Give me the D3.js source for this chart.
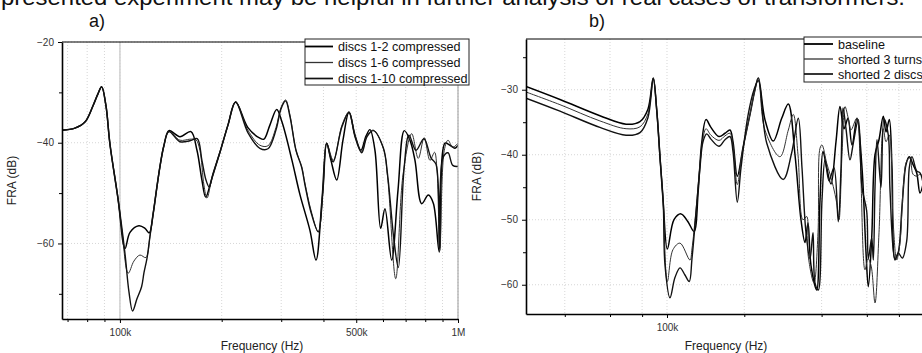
<!DOCTYPE html>
<html>
<head>
<meta charset="utf-8">
<script src="https://cdn.jsdelivr.net/npm/d3@7"></script>
<style>
  body { margin: 0; background: #fff; }
  svg { display: block; font-family: Arial, "Liberation Sans", sans-serif; }
</style>
</head>
<body>
<svg width="922" height="353"></svg>
<script>
// ---- data (frequency in kHz, FRA in dB) ----
const legendA = ["discs 1-2 compressed", "discs 1-6 compressed", "discs 1-10 compressed"];
const legendB = ["baseline", "shorted 3 turns", "shorted 2 discs"];

const discs12 = [[67.4,-37.5],[73.6,-37.1],[78.8,-35.9],[83.2,-32.7],[86.1,-30.3],[88.3,-28.9],[90.9,-32.6],[93.4,-40.2],[98.7,-51.1],[103.5,-61.0],[107.1,-57.8],[113.8,-56.5],[118.6,-57.0],[122.1,-57.9],[125.4,-54.1],[128.2,-49.5],[131.3,-44.8],[134.9,-40.6],[139.6,-37.6],[150.5,-38.8],[162.2,-37.8],[169.0,-41.5],[174.8,-47.4],[179.3,-50.8],[187.2,-47.0],[197.6,-41.9],[208.7,-36.5],[219.9,-31.9],[239.1,-37.0],[259.4,-39.1],[266.7,-39.3],[277.7,-36.5],[290.9,-33.4],[301.6,-35.9],[322.8,-43.5],[340.8,-50.3],[364.8,-57.4],[380.2,-63.3],[395.9,-51.4],[408.8,-40.1],[421,-43.5],[437.7,-47.4],[456.8,-39.5],[476,-33.9],[495.8,-38.5],[516.4,-41.5],[534.4,-38.7],[549,-37.4],[568,-41.5],[590.6,-57.0],[608.1,-53.1],[636.5,-63.3],[664.6,-49.4],[693.6,-37.6],[721,-39.5],[746,-43.5],[780.8,-52.1],[816.9,-50.4],[845.2,-52.0],[880.4,-61.7],[915.2,-40.1],[946.9,-40.5],[979.6,-41.1],[1000,-40.5]];
const discs16 = [[67.4,-37.5],[73.6,-37.1],[78.8,-35.9],[83.2,-32.7],[86.1,-30.3],[88.3,-28.9],[90.9,-32.6],[93.4,-40.2],[98.7,-51.1],[101.4,-57.5],[105.8,-65.9],[110,-63.5],[114.6,-62.3],[119.4,-62.8],[122.7,-58.6],[125.4,-54.1],[128.2,-49.5],[131.3,-44.8],[134.9,-40.6],[139.6,-37.8],[150.5,-39.5],[161.1,-39.3],[167.8,-39.4],[172.4,-41.5],[177.2,-48.4],[180.9,-51.0],[187.2,-47.0],[197.6,-41.9],[208.7,-36.5],[219.9,-31.9],[239.1,-37.5],[259.4,-40.5],[274.1,-40.6],[289.4,-37.0],[299.5,-33.0],[309,-31.5],[318.4,-34.5],[331.7,-41.5],[344.8,-44.7],[352.5,-48],[367.4,-53.4],[386.1,-57.7],[398.7,-49.4],[408.8,-40.1],[427.7,-43.5],[453.8,-36.5],[476,-33.9],[495.8,-38.5],[518.9,-41.8],[538.1,-38.6],[561.6,-37.5],[601.2,-41.1],[619.4,-47.0],[654.3,-67.0],[687.5,-46.4],[729.5,-38.2],[762.9,-43.1],[794.5,-39.0],[826.2,-43.5],[852.2,-41.9],[866.8,-45.4],[883.5,-61.4],[910.9,-41.5],[934.2,-39.5],[965,-40.9],[1000,-40.1]];
const discs110 = [[67.4,-37.5],[73.6,-37.1],[78.8,-35.9],[83.2,-32.7],[86.1,-30.3],[88.3,-28.9],[90.9,-32.6],[93.4,-40.2],[98.7,-51.1],[103.5,-62],[106.3,-69.5],[109,-73.4],[112.3,-71.0],[115.9,-68.6],[117.8,-65.8],[120.2,-63.0],[122.7,-58.6],[125.4,-54.1],[128.2,-49.5],[131.3,-44.8],[134.9,-40.6],[139.6,-37.8],[150.5,-39.8],[161.1,-39.6],[169.3,-39.2],[174.8,-43.5],[179.7,-47.4],[183.7,-48.8],[188.4,-46.2],[197.6,-41.9],[208.7,-36.5],[219.9,-31.9],[239.1,-38.0],[259.4,-41.1],[274.1,-41.2],[289.4,-37.5],[299.5,-33.3],[309,-31.7],[318.4,-34.8],[331.7,-41.5],[344.8,-44.9],[352.5,-48.3],[367.4,-53.8],[386.1,-57.7],[398.7,-49.4],[408.8,-40.1],[421,-43.1],[427.7,-43.8],[453.8,-36.8],[476,-34.0],[495.8,-38.8],[518.9,-42.0],[538.1,-38.8],[561.6,-37.6],[601.2,-41.0],[619.4,-46.5],[646.7,-59.4],[666,-64.8],[692.1,-45.4],[716.1,-38.5],[751.1,-41.5],[793,-39.2],[832.1,-43.0],[861,-44.3],[881.5,-61.0],[902.8,-43.0],[934.2,-42.0],[965,-44.5],[1000,-44.7]];

const baseline = [[28.25,-29.5],[38.3,-31.5],[54.8,-34.0],[69.3,-35.3],[78.5,-34.9],[84.3,-33.0],[88.4,-28.2],[91.2,-33.1],[93.9,-40.3],[96.7,-47.4],[100.3,-54.5],[106.5,-50.0],[113.4,-49.1],[120.7,-50.3],[127.4,-51.8],[132.4,-45.4],[136.5,-38.2],[141.9,-34.6],[148.3,-35.8],[159.4,-37.2],[168.2,-36.7],[175.9,-36.2],[180.7,-38.0],[187.8,-43.3],[198.2,-38.7],[210.5,-33.8],[220.1,-30.0],[226.8,-28.2],[240.7,-34.6],[259.4,-37.9],[279.7,-34.4],[296.8,-32.2],[315.1,-40],[332.5,-50],[344.6,-53.5],[354,-50.5],[363.6,-57],[382.7,-60.8],[394.3,-47],[405,-39.5],[418.7,-42],[435.2,-44.5],[455.1,-38],[471.8,-32.6],[489,-36],[506.8,-34.4],[525.3,-38.5],[549.5,-34.4],[574.6,-42],[595.5,-55],[608,-60.3],[626.8,-52.8],[645.7,-40],[669.2,-37.7],[695.5,-34.1],[712.5,-36.5],[733.9,-34.6],[751.9,-42],[772.5,-56],[795.6,-55],[822.7,-48],[852.3,-41.5],[878,-40.3],[907.7,-41.5],[938.4,-42.8],[966.5,-45.9],[1000,-44]];
const shorted3 = [[28.25,-30.35],[38.3,-32.3],[54.8,-34.8],[69.3,-36.0],[78.5,-35.7],[84.3,-33.7],[88.4,-28.2],[91.2,-33.1],[93.9,-40.3],[96.7,-47.4],[100.3,-59.5],[105.5,-54.6],[112.4,-53.6],[122.9,-56.2],[125.1,-54.5],[129.7,-48.5],[134.4,-41.5],[138.1,-37.5],[141.9,-36.0],[148.3,-37],[159.4,-37.8],[168.2,-37.1],[175.9,-36.7],[180.7,-38.5],[187.8,-44.6],[196,-39.8],[210.5,-33.8],[220.1,-30.0],[226.8,-28.2],[240.7,-36.2],[275.4,-40.3],[296.8,-36.2],[310.3,-33.8],[323.7,-40],[338.5,-50],[349.9,-49.5],[354.9,-55.6],[373.5,-59.7],[387.3,-52],[394.3,-39.0],[401.4,-38.5],[418.7,-41.3],[431.3,-43],[444.2,-44.9],[457.9,-47.4],[467.6,-50.0],[480.3,-40],[493.4,-32.6],[508.1,-34.4],[520.6,-36.2],[548,-34.4],[564.5,-40],[590.2,-57.7],[606.3,-56],[622.9,-57],[645.7,-62.8],[669.2,-52],[695.5,-36],[712.5,-38],[733.9,-37],[758.7,-50],[784.3,-56.2],[807.7,-53.5],[832,-45],[857.7,-41],[883.7,-40.5],[907.7,-43],[940.8,-43.3],[966.5,-43],[1000,-43.5]];
const shorted2 = [[28.25,-31.3],[38.3,-33.3],[54.8,-35.8],[69.3,-37.0],[78.5,-36.6],[84.3,-34.3],[88.4,-28.3],[91.2,-33.1],[93.9,-40.3],[96.7,-47.4],[98.2,-56.9],[102.7,-62.0],[107.4,-58.9],[112.4,-57.4],[117.5,-58.5],[122.1,-59.5],[125.1,-56],[129.7,-49],[134.4,-42.0],[138.1,-38.0],[142.8,-36.8],[148.3,-37.6],[159.4,-38.7],[168.2,-37.7],[175.9,-37.2],[180.7,-39.5],[187.8,-47.3],[194.2,-42],[206.7,-34],[218.2,-30],[226.8,-28.6],[244.5,-38.2],[283.7,-43.8],[305.9,-39.7],[324.6,-34.4],[335.5,-42],[347.7,-52],[360.5,-56],[370.3,-52],[377,-59.7],[388.4,-60.8],[401.4,-47],[412.4,-40.8],[427.4,-44],[447,-42],[464.6,-50.3],[476,-42],[484.7,-32.8],[497.8,-36],[515.9,-40.8],[531.6,-38.2],[555.9,-34.6],[574.6,-45],[599.3,-48.7],[608,-56],[626.8,-52.8],[636,-56.2],[645.7,-45],[657.4,-37.7],[681.3,-45],[699.8,-34.5],[727.4,-37],[738.5,-45.4],[772.5,-56.2],[795.6,-55.1],[824.9,-55.9],[857.7,-53.3],[878,-42],[899.5,-40.3],[938.4,-42.5],[966.5,-42.8],[1000,-45]];

// ticks (kHz / dB)
const xMajorA = [100, 500, 1000], xLabelA = ["100k", "500k", "1M"];
const xMinorA = [70, 80, 90, 200, 300, 400, 600, 700, 800, 900];
const yMajorA = [-20, -40, -60], yMinorA = [-30, -50, -70];
const xMajorB = [100], xLabelB = ["100k"];
const xMinorB = [40, 60, 80, 200, 400, 600, 800];
const yMajorB = [-30, -40, -50, -60], yMinorB = [-25, -35, -45, -55];

const svg = d3.select("svg");
const lineStyles = [
  { stroke: "#000", width: 1.5 },
  { stroke: "#333", width: 1.0 },
  { stroke: "#111", width: 1.4 }
];

// cut-off caption line above the figure
svg.append("text")
  .attr("x", 1).attr("y", 5)
  .attr("font-size", 22)
  .attr("textLength", 904)
  .attr("lengthAdjust", "spacingAndGlyphs")
  .attr("fill", "#111")
  .text("presented experiment may be helpful in further analysis of real cases of transformers.");

function panel(cfg) {
  const x = d3.scaleLog().domain(cfg.xDomain).range([cfg.left, cfg.right]);
  const y = d3.scaleLinear().domain(cfg.yDomain).range([cfg.bottom, cfg.top]);
  const g = svg.append("g");
  const plotRight = Math.min(cfg.right, 922);

  // panel letter
  svg.append("text").attr("x", cfg.letterX).attr("y", 27)
    .attr("text-anchor", "middle").attr("font-size", 18).attr("fill", "#111")
    .text(cfg.letter);

  // grid
  g.selectAll(".vg").data(cfg.xMajor.concat(cfg.xMinor)).join("line")
    .attr("x1", d => x(d)).attr("x2", d => x(d))
    .attr("y1", cfg.top).attr("y2", cfg.bottom)
    .attr("stroke", "#ccc").attr("stroke-width", 0.8)
    .attr("stroke-dasharray", "1,2");
  g.selectAll(".hg").data(cfg.yMajor).join("line")
    .attr("x1", cfg.left).attr("x2", plotRight)
    .attr("y1", d => y(d)).attr("y2", d => y(d))
    .attr("stroke", "#ccc").attr("stroke-width", 0.8)
    .attr("stroke-dasharray", "1,2");
  if (cfg.solid100) {
    g.append("line")
      .attr("x1", x(100)).attr("x2", x(100))
      .attr("y1", cfg.top).attr("y2", cfg.bottom)
      .attr("stroke", "#d0d0d0").attr("stroke-width", 1.5);
  }

  // curves
  const clipId = "clip" + cfg.letter[0];
  svg.append("clipPath").attr("id", clipId).append("rect")
    .attr("x", cfg.left).attr("y", cfg.top)
    .attr("width", cfg.right - cfg.left).attr("height", cfg.bottom - cfg.top);
  const line = d3.line()
    .x(d => x(d[0])).y(d => y(d[1]))
    .curve(d3.curveCatmullRom.alpha(0.5));
  g.append("g").attr("clip-path", `url(#${clipId})`)
    .selectAll("path").data(cfg.series).join("path")
    .attr("d", d => line(d))
    .attr("fill", "none")
    .attr("stroke", (d, i) => lineStyles[i].stroke)
    .attr("stroke-width", (d, i) => lineStyles[i].width)
    .attr("stroke-linejoin", "round");

  // frame: top black, right gray
  g.append("line").attr("x1", cfg.left).attr("x2", plotRight)
    .attr("y1", cfg.top).attr("y2", cfg.top)
    .attr("stroke", "#000").attr("stroke-width", 1);
  if (cfg.right <= 922) {
    g.append("line").attr("x1", cfg.right).attr("x2", cfg.right)
      .attr("y1", cfg.top).attr("y2", cfg.bottom)
      .attr("stroke", "#999").attr("stroke-width", 1);
  }

  // axes
  const xAxis = d3.axisBottom(x).tickValues(cfg.xMajor)
    .tickFormat((d, i) => cfg.xLabels[i]).tickSize(4).tickSizeOuter(0).tickPadding(6);
  const xAxisMinor = d3.axisBottom(x).tickValues(cfg.xMinor)
    .tickFormat("").tickSize(3).tickSizeOuter(0);
  const yAxis = d3.axisLeft(y).tickValues(cfg.yMajor)
    .tickFormat(d3.format("d")).tickSize(4).tickSizeOuter(0).tickPadding(4);
  const yAxisMinor = d3.axisLeft(y).tickValues(cfg.yMinor)
    .tickFormat("").tickSize(3).tickSizeOuter(0);

  const ax = g.append("g").attr("transform", `translate(0,${cfg.bottom})`).call(xAxis);
  g.append("g").attr("transform", `translate(0,${cfg.bottom})`).call(xAxisMinor)
    .select(".domain").remove();
  const ay = g.append("g").attr("transform", `translate(${cfg.left},0)`).call(yAxis);
  g.append("g").attr("transform", `translate(${cfg.left},0)`).call(yAxisMinor)
    .select(".domain").remove();
  [ax, ay].forEach(a => {
    a.select(".domain").attr("stroke", "#000").attr("stroke-width", 1.6);
    a.selectAll("text").attr("font-size", 10).attr("fill", "#333")
      .attr("font-family", "Arial, 'Liberation Sans', sans-serif");
  });
  g.selectAll(".tick line").attr("stroke", "#000");

  // axis titles
  svg.append("text")
    .attr("x", (cfg.left + plotRight) / 2 + 2).attr("y", 350)
    .attr("text-anchor", "middle").attr("font-size", 12).attr("fill", "#222")
    .text("Frequency (Hz)");
  svg.append("text")
    .attr("transform", `translate(${cfg.yTitleX},${(cfg.top + cfg.bottom) / 2}) rotate(-90)`)
    .attr("text-anchor", "middle").attr("font-size", 12).attr("fill", "#222")
    .text("FRA (dB)");

  // legend
  const L = cfg.legend;
  const lg = svg.append("g");
  lg.append("rect")
    .attr("x", L.x).attr("y", L.y).attr("width", L.w).attr("height", L.h)
    .attr("fill", "#fff").attr("stroke", "#222").attr("stroke-width", 1);
  cfg.names.forEach((name, i) => {
    const yy = L.y + L.first + i * L.step;
    lg.append("line")
      .attr("x1", L.x).attr("x2", L.x + L.lineLen)
      .attr("y1", yy).attr("y2", yy)
      .attr("stroke", lineStyles[i].stroke)
      .attr("stroke-width", lineStyles[i].width + 0.3);
    lg.append("text")
      .attr("x", L.x + L.lineLen + 5).attr("y", yy + 4.5)
      .attr("font-size", 12.6).attr("fill", "#111")
      .text(name);
  });
}

panel({
  letter: "a)", letterX: 97,
  xDomain: [67.4, 1000], yDomain: [-75, -20],
  left: 62, right: 458, top: 42, bottom: 319,
  xMajor: xMajorA, xLabels: xLabelA, xMinor: xMinorA,
  yMajor: yMajorA, yMinor: yMinorA,
  solid100: true, yTitleX: 16,
  series: [discs12, discs16, discs110], names: legendA,
  legend: { x: 305, y: 39, w: 164, h: 46, first: 7.5, step: 16, lineLen: 28 }
});

panel({
  letter: "b)", letterX: 597,
  xDomain: [28.25, 1000], yDomain: [-64.5, -22.2],
  left: 526, right: 923.8, top: 39, bottom: 314,
  xMajor: xMajorB, xLabels: xLabelB, xMinor: xMinorB,
  yMajor: yMajorB, yMinor: yMinorB,
  solid100: false, yTitleX: 481,
  series: [baseline, shorted3, shorted2], names: legendB,
  legend: { x: 804, y: 37, w: 130, h: 45, first: 7, step: 15, lineLen: 29 }
});
</script>
</body>
</html>
